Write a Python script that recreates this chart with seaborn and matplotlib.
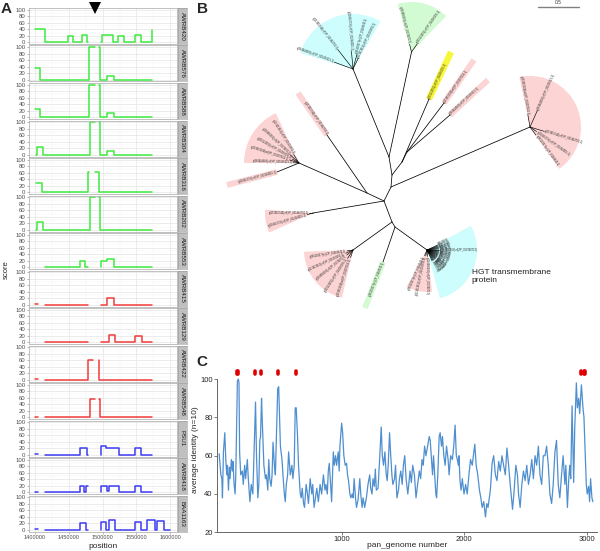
import numpy as np
import matplotlib
matplotlib.use("Agg")
import matplotlib.pyplot as plt
import matplotlib.transforms as mtransforms
from matplotlib.patches import Wedge
import seaborn as sns

sns.set_style("white")
plt.rcParams['font.family'] = ['Liberation Sans', 'DejaVu Sans']

n = np.nan

# -----------------------------------------------
# Panel A data: window scores along the genome (kb)
# -----------------------------------------------
strains = ['AWRB420', 'AWRB576', 'AWRB588', 'AWRB304', 'AWRB316', 'AWRB202', 'AWRB553',
           'AWRB415', 'AWRB129', 'AWRB422', 'AWRB548', 'PSU1', 'AWRB418', 'BAA1163']
strain_group = ['green'] * 7 + ['red'] * 4 + ['blue'] * 3
group_colors = {'green': '#3fea3f', 'red': '#f23c3c', 'blue': '#3c3cf2'}

positions = {
    'AWRB420': [1400, 1415, 1449, 1456, 1469, 1477.5, 1479, n, 1498, 1499, 1516, 1523, 1532, 1548, 1557, 1573, 1573.5],
    'AWRB576': [1400, 1407, 1480, 1488, n, 1495, 1496, 1507, 1517, 1573],
    'AWRB588': [1400, 1407, 1480, 1488, n, 1495, 1496, 1507, 1517, 1573],
    'AWRB304': [1401, 1403, 1411, 1481, 1488, n, 1495, 1496, 1507, 1517, 1573],
    'AWRB316': [1401, 1410, 1479, 1480, n, 1489, 1495, 1573],
    'AWRB202': [1401, 1403, 1411, 1481, 1488, n, 1495, 1496, 1573],
    'AWRB553': [1415, 1467, 1474, 1479, n, 1497, 1498, 1507, 1517, 1573],
    'AWRB415': [1400, 1405, n, 1415, 1479, n, 1497, 1507, 1517, 1573],
    'AWRB129': [1415, 1479, n, 1497, 1510, 1518, 1548, 1558, 1573],
    'AWRB422': [1400, 1405, n, 1415, 1479, 1486, n, 1494, 1495, 1573],
    'AWRB548': [1400, 1405, n, 1415, 1481, 1488, n, 1495, 1496, 1573],
    'PSU1': [1400, 1405, n, 1415, 1467, 1477, 1479, n, 1497, 1498, 1505, 1524, 1548, 1557, 1573],
    'AWRB418': [1400, 1405, n, 1415, 1467, 1473, 1475, 1479, n, 1497, 1498, 1507, 1509, 1524, 1548, 1557, 1573],
    'BAA1163': [1400, 1404, n, 1415, 1467, 1476, 1479, n, 1497, 1498, 1505, 1509, 1518, 1548, 1556, 1565, 1578, 1581, 1591, 1600],
}
scores = {
    'AWRB420': [40, 0, 20, 0, 22, 0, 0, n, 0, 22, 0, 20, 0, 22, 0, 38, 38],
    'AWRB576': [35, 0, 100, 100, n, 100, 0, 12, 0, 0],
    'AWRB588': [27, 0, 100, 100, n, 100, 0, 12, 0, 0],
    'AWRB304': [0, 25, 0, 100, 100, n, 100, 0, 12, 0, 0],
    'AWRB316': [30, 0, 62, 62, n, 62, 0, 0],
    'AWRB202': [0, 25, 0, 100, 100, n, 100, 0, 0],
    'AWRB553': [0, 20, 0, 0, n, 0, 20, 25, 0, 0],
    'AWRB415': [2, 2, n, 0, 0, n, 0, 22, 0, 0],
    'AWRB129': [0, 0, n, 0, 22, 0, 20, 0, 0],
    'AWRB422': [2, 2, n, 0, 62, 62, n, 62, 0, 0],
    'AWRB548': [2, 2, n, 0, 55, 55, n, 55, 0, 0],
    'PSU1': [2, 2, n, 0, 20, 0, 0, n, 0, 28, 20, 0, 20, 0, 0],
    'AWRB418': [2, 2, n, 0, 20, 0, 18, 18, n, 0, 18, 5, 18, 0, 20, 0, 0],
    'BAA1163': [2, 2, n, 0, 22, 0, 0, n, 0, 25, 0, 30, 0, 25, 0, 30, 0, 28, 0, 0],
}
deletion_kb = 1489

# -----------------------------------------------
# Panel C data: average identity along the pan-genome
# -----------------------------------------------
gene_no = [0, 14, 22, 27, 35, 46, 54, 62, 68, 76,
           84, 89, 100, 108, 113, 122, 130, 135, 149, 157,
           162, 167, 176, 189, 197, 208, 216, 230, 238, 251,
           262, 275, 297, 305, 316, 324, 332, 338, 346, 351,
           365, 378, 386, 397, 405, 413, 424, 432, 440, 451,
           459, 478, 486, 500, 513, 521, 532, 540, 548, 559,
           567, 581, 594, 602, 613, 621, 629, 640, 648, 662,
           670, 678, 689, 697, 710, 721, 729, 743, 756, 764,
           775, 786, 797, 810, 824, 837, 851, 864, 872, 883,
           891, 899, 910, 918, 932, 940, 950, 959, 972, 980,
           986, 1000, 1008, 1018, 1029, 1040, 1048, 1056, 1067, 1075,
           1086, 1094, 1102, 1113, 1121, 1134, 1148, 1156, 1167, 1175,
           1188, 1202, 1215, 1229, 1237, 1248, 1256, 1267, 1275, 1283,
           1297, 1310, 1323, 1332, 1342, 1353, 1364, 1372, 1380, 1391,
           1399, 1410, 1418, 1432, 1440, 1451, 1464, 1472, 1483, 1494,
           1504, 1515, 1526, 1540, 1548, 1558, 1569, 1580, 1594, 1607,
           1620, 1634, 1645, 1656, 1666, 1677, 1688, 1702, 1715, 1723,
           1734, 1742, 1750, 1769, 1775, 1785, 1796, 1804, 1815, 1823,
           1834, 1845, 1856, 1869, 1877, 1890, 1904, 1915, 1926, 1936,
           1944, 1953, 1958, 1966, 1975, 1985, 1999, 2012, 2025, 2039,
           2052, 2066, 2079, 2087, 2098, 2111, 2125, 2136, 2147, 2160,
           2174, 2185, 2195, 2214, 2228, 2241, 2255, 2268, 2282, 2295,
           2309, 2322, 2336, 2349, 2363, 2376, 2395, 2406, 2422, 2435,
           2444, 2457, 2471, 2484, 2498, 2511, 2525, 2538, 2552, 2565,
           2579, 2592, 2606, 2619, 2633, 2646, 2660, 2673, 2687, 2700,
           2714, 2727, 2741, 2754, 2768, 2781, 2795, 2808, 2822, 2830,
           2843, 2854, 2862, 2870, 2881, 2894, 2903, 2916, 2924, 2935,
           2943, 2957, 2970, 2978, 2989, 2997, 3005, 3016, 3024, 3032,
           3043, 3051]
avg_identity = [61, 50, 48, 38, 62, 72, 58, 50, 55, 42,
                54, 48, 58, 52, 57, 45, 40, 48, 99, 100,
                98, 62, 50, 52, 45, 55, 48, 58, 48, 36,
                45, 40, 88, 60, 38, 45, 68, 70, 90, 80,
                55, 48, 50, 42, 58, 48, 44, 50, 67, 55,
                50, 95, 96, 65, 58, 50, 40, 36, 45, 50,
                62, 50, 55, 48, 55, 85, 85, 70, 55, 40,
                38, 43, 35, 33, 45, 40, 35, 48, 40, 45,
                33, 38, 43, 36, 45, 40, 50, 42, 45, 40,
                52, 56, 45, 36, 62, 55, 60, 55, 62, 52,
                65, 77, 72, 60, 55, 56, 50, 47, 40, 38,
                40, 38, 48, 38, 33, 37, 48, 40, 33, 38,
                33, 38, 45, 50, 43, 40, 48, 44, 53, 42,
                43, 58, 75, 60, 55, 62, 50, 47, 55, 72,
                62, 50, 45, 48, 55, 38, 42, 48, 52, 45,
                55, 60, 48, 40, 45, 52, 46, 55, 50, 38,
                45, 52, 48, 58, 55, 65, 60, 65, 70, 68,
                58, 50, 60, 40, 38, 50, 70, 72, 65, 70,
                60, 55, 65, 58, 50, 60, 58, 65, 76, 60,
                58, 55, 60, 47, 42, 48, 40, 45, 40, 50,
                58, 55, 62, 66, 55, 50, 42, 38, 33, 36,
                28, 35, 33, 42, 56, 60, 50, 47, 57, 52,
                60, 55, 50, 64, 55, 45, 32, 40, 55, 50,
                40, 33, 45, 52, 47, 55, 45, 50, 58, 48,
                60, 55, 65, 50, 45, 60, 60, 65, 55, 40,
                35, 45, 62, 68, 45, 38, 50, 60, 45, 55,
                33, 48, 55, 48, 86, 46, 75, 98, 85, 90,
                82, 97, 85, 80, 60, 45, 40, 44, 36, 48,
                38, 36]
hgt_genes = [146, 156, 292, 339, 480, 624, 2950, 2975, 2983]

# -----------------------------------------------
# Panel B data: unrooted tree layout (pixel space)
# -----------------------------------------------
node_xy = {
    'J1': (384, 201), 'J2': (391, 187), 'J3': (392, 175), 'J4': (402, 162), 'J5': (407, 152),
    'J6': (389, 157), 'J7': (367, 193), 'J8': (392, 222), 'J9': (395, 227),
    'cyanTop': (353, 69), 'greenTop': (411.5, 52), 'pinkRight': (530, 127),
    'pinkLeft': (299, 163), 'pinkPair': (313, 213), 'pinkLow': (353, 250), 'hgt': (427, 250),
    'yellowLeaf': (429, 99), 'pinkLeafA': (444, 103), 'pinkLeafB': (450, 115),
    'pinkLeafC': (327, 135), 'pinkLeafD': (277, 172), 'greenLeaf': (383, 262),
}
tree_edges = [('J1', 'J2'), ('J2', 'pinkRight'), ('J2', 'J3'), ('J3', 'J4'), ('J4', 'yellowLeaf'),
              ('J4', 'J5'), ('J5', 'pinkLeafA'), ('J5', 'pinkLeafB'), ('J3', 'J6'), ('J6', 'cyanTop'),
              ('J6', 'greenTop'), ('J1', 'J7'), ('J7', 'pinkLeft'), ('J7', 'pinkLeafC'),
              ('pinkLeft', 'pinkLeafD'), ('J1', 'pinkPair'), ('J1', 'J8'), ('J8', 'pinkLow'),
              ('J8', 'J9'), ('J9', 'greenLeaf'), ('J9', 'hgt')]
shade = {'cyan': '#cdfdfd', 'green': '#d3fbd3', 'pink': '#fcd4d4', 'yellow': '#f7f73a'}
# clade node, wedge radius, wedge angles, colour, leaf angles, branch lengths
clades = [
    ('cyanTop', 55, (60, 163), 'cyan', [160, 128, 95, 75, 64], [20, 25, 18, 15, 12]),
    ('greenTop', 50, (46, 106), 'green', [104, 55], [8, 10]),
    ('pinkRight', 51, (-55, 102), 'pink', [100, 66, -17, -35, -54], [12, 18, 15, 8, 10]),
    ('pinkLeft', 55, (115, 180), 'pink', [122, 137, 150, 162, 178], [10, 12, 8, 10, 6]),
    ('pinkPair', 48, (176, 204), 'pink', [180, 196], [4, 6]),
    ('pinkLow', 49, (182, 257), 'pink', [189, 204, 219, 237, 252], [6, 8, 8, 10, 8]),
    ('hgt', 50, (-75, 29), 'cyan', [25, 20, 15, 10, 5, 0, -5, -10, -15, -20, -25, -30, -35,
                                    -40, -45, -50, -55, -60, -65], [12] * 19),
    ('hgt', 42, (241, 277), 'pink', [246, 258, 270], [6, 6, 6]),
]
single_leaves = [('yellowLeaf', (451, 52), 'yellow'), ('pinkLeafA', (474, 60), 'pink'),
                 ('pinkLeafB', (488, 80), 'pink'), ('pinkLeafC', (298, 93), 'pink'),
                 ('pinkLeafD', (227, 185), 'pink'), ('greenLeaf', (365, 308), 'green')]
leaf_ids = ['gi|384449583|ref|YP_005656321.1|', 'gi|157415744|ref|YP_001482700.1|',
            'gi|218562735|ref|YP_002344515.1|', 'gi|86150317|ref|ZP_01068543.1|',
            'gi|121612813|ref|YP_001000651.1|', 'gi|283956592|ref|ZP_06374072.1|',
            'gi|315124391|ref|YP_004066395.1|', 'gi|153952008|ref|YP_001397415.1|']

W, H = 600, 551
fig = plt.figure(figsize=(6, 5.51), dpi=100)


def px_axes(x0, y0, x1, y1):
    return fig.add_axes([x0 / W, 1 - y1 / H, (x1 - x0) / W, (y1 - y0) / H])


# -----------------------------------------------
# Panel A
# -----------------------------------------------
for i, name in enumerate(strains):
    top = 8 + i * 37.5
    ax = px_axes(29, top, 177, top + 36)
    x = np.array(positions[name]) * 1000
    ax.plot(x, scores[name], drawstyle='steps-post', color=group_colors[strain_group[i]], lw=1.1)
    ax.set_xlim(1391000, 1610000)
    ax.set_ylim(-5, 105)
    ax.set_xticks([1400000, 1450000, 1500000, 1550000, 1600000])
    ax.set_xticks([1425000, 1475000, 1525000, 1575000], minor=True)
    ax.set_yticks([0, 20, 40, 60, 80, 100])
    ax.set_yticks([10, 30, 50, 70, 90], minor=True)
    ax.grid(which='major', color='#e4e4e4', lw=0.5)
    ax.grid(which='minor', color='#f1f1f1', lw=0.3)
    ax.set_axisbelow(True)
    for s in ax.spines.values():
        s.set_visible(True)
        s.set_color('#b5b5b5')
        s.set_linewidth(0.6)
    ax.tick_params(which='major', left=True, bottom=True, labelsize=4.3, length=1.5, width=0.4,
                   color='#7f7f7f', labelcolor='#4d4d4d', pad=1)
    ax.tick_params(which='minor', length=0)
    if i < len(strains) - 1:
        ax.tick_params(axis='x', labelbottom=False, length=0)
    else:
        ax.tick_params(axis='x', labelsize=4)
        ax.set_xticklabels(['1400000', '1450000', '1500000', '1550000', '1600000'])
    if i == 0:
        trans = mtransforms.blended_transform_factory(ax.transData, ax.transAxes)
        ax.plot([deletion_kb * 1000], [0.99], marker='v', ms=9.2, color='black', mew=0,
                transform=trans, clip_on=False, zorder=5)
    sax = px_axes(177.5, top, 187, top + 36)
    sax.set_facecolor('#bfbfbf')
    sax.set_xticks([])
    sax.set_yticks([])
    for s in sax.spines.values():
        s.set_visible(True)
        s.set_color('#9a9a9a')
        s.set_linewidth(0.4)
    sax.text(0.5, 0.5, name, rotation=-90, ha='center', va='center', fontsize=4.5,
             color='#1a1a1a', transform=sax.transAxes)

fig.text(6 / W, 1 - 270 / H, 'score', rotation=90, fontsize=5.5, ha='center', va='center')
fig.text(103 / W, 1 - 546 / H, 'position', fontsize=6, ha='center', va='center')

# -----------------------------------------------
# Panel B
# -----------------------------------------------
axB = px_axes(200, 0, 600, 360)
axB.set_xlim(200, 600)
axB.set_ylim(360, 0)
axB.axis('off')
axB.patch.set_alpha(0)

for a, b in tree_edges:
    (x0, y0), (x1, y1) = node_xy[a], node_xy[b]
    axB.plot([x0, x1], [y0, y1], color='black', lw=0.55, zorder=2)


def leaf_label(x, y, ang, label, size=1.8):
    a = ang % 360
    if 90 < a < 270:
        rot, ha = a - 180, 'right'
    else:
        rot, ha = ang, 'left'
    axB.text(x, y, label, rotation=rot, ha=ha, va='center', rotation_mode='anchor',
             fontsize=size, color='#222222', zorder=3)


k = 0
for node, r, (a1, a2), col, angs, branches in clades:
    cx, cy = node_xy[node]
    axB.add_patch(Wedge((cx, cy), r, -a2, -a1, facecolor=shade[col], edgecolor='none', zorder=0))
    for ang, bl in zip(angs, branches):
        t = np.deg2rad(ang)
        tx, ty = cx + bl * np.cos(t), cy - bl * np.sin(t)
        axB.plot([cx, tx], [cy, ty], color='black', lw=0.45, zorder=2)
        lab = leaf_ids[k % len(leaf_ids)]
        if node == 'hgt' and col == 'cyan' and ang != 0:
            lab = lab[4:13]
        leaf_label(tx + 0.6 * np.cos(t), ty - 0.6 * np.sin(t), ang, lab)
        k += 1

for node, (ex, ey), col in single_leaves:
    sx, sy = node_xy[node]
    axB.plot([sx, ex], [sy, ey], color=shade[col], lw=4.2 if col != 'yellow' else 4.6,
             solid_capstyle='butt', zorder=1)
    ang = np.degrees(np.arctan2(-(ey - sy), ex - sx))
    leaf_label(sx, sy, ang, leaf_ids[k % len(leaf_ids)])
    k += 1

axB.plot([538, 579], [6.7, 6.7], color='#808080', lw=1.0)
axB.text(558.5, 4.5, '0.5', fontsize=3.5, ha='center', va='bottom', color='#333333')
axB.text(471.5, 277, 'HGT transmembrane\nprotein', fontsize=6, ha='left', va='center',
         color='#222222', linespacing=1.2)

# -----------------------------------------------
# Panel C
# -----------------------------------------------
axC = fig.add_axes([216.7 / W, 1 - 532.3 / H, 380 / W, 164.7 / H])
sns.lineplot(x=gene_no, y=avg_identity, ax=axC, color='#4f8fcf', lw=0.9, estimator=None)
axC.vlines(hgt_genes, 102.4, 104.2, color='#e00000', lw=2.6, capstyle='round', clip_on=False)
axC.set_xlim(-20, 3082)
axC.set_ylim(20, 106)
axC.set_xticks([1000, 2000, 3000])
axC.set_yticks([20, 40, 60, 80, 100])
axC.spines['top'].set_visible(False)
axC.spines['right'].set_visible(False)
axC.spines['left'].set_bounds(20, 100)
for s in ['left', 'bottom']:
    axC.spines[s].set_color('#666666')
    axC.spines[s].set_linewidth(0.7)
axC.tick_params(left=True, bottom=True, labelsize=5.5, length=2, width=0.6, color='#666666', pad=1)
axC.set_xlabel('pan_genome number', fontsize=6)
axC.xaxis.set_label_coords(0.5, -0.083)
axC.xaxis.label.set_va('center')
axC.set_ylabel('average identity (n=10)', fontsize=6, labelpad=1)

# panel letters
fig.text(1 / W, 1 - 2 / H, 'A', fontsize=11, fontweight='bold', va='top', ha='left')
fig.text(197 / W, 1 - 2 / H, 'B', fontsize=11, fontweight='bold', va='top', ha='left')
fig.text(196 / W, 1 - 355 / H, 'C', fontsize=11, fontweight='bold', va='top', ha='left')

plt.savefig("out.png", dpi=100)
